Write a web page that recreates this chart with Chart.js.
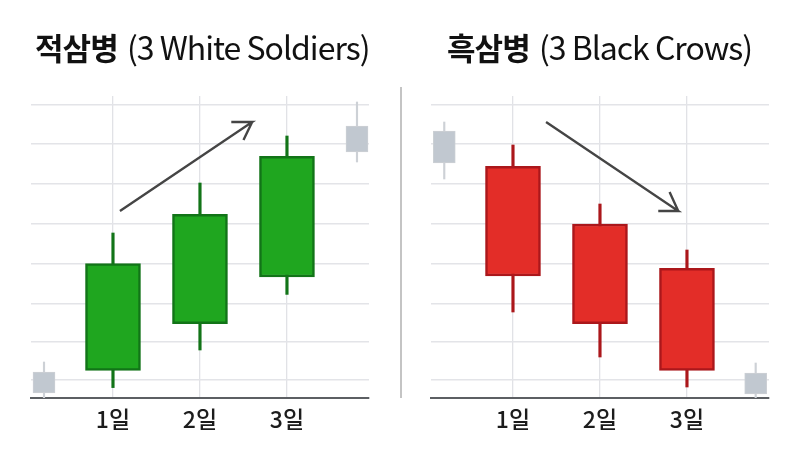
<!DOCTYPE html>
<html><head><meta charset="utf-8">
<script src="https://cdn.jsdelivr.net/npm/chart.js@4"></script>
<style>
html,body{margin:0;padding:0;background:#fff;width:800px;height:450px;overflow:hidden}
canvas{position:absolute;top:0}
#c1{left:0}#c2{left:400px}
.t{position:absolute;top:23px;white-space:nowrap;font-family:"Noto Sans CJK KR";color:#111;font-size:31px;line-height:46px;letter-spacing:-0.9px}
.t b{font-weight:700}
.t span{font-weight:400;font-size:32px;letter-spacing:-1.0px;margin-left:3px}
#t1{left:35px}#t2{left:447px}
#div{position:absolute;left:400px;top:87px;width:1.5px;height:311px;background:#c4c4c4}
</style></head><body>
<canvas id="c1" width="400" height="450" style="width:400px;height:450px"></canvas>
<canvas id="c2" width="400" height="450" style="width:400px;height:450px"></canvas>
<div id="div"></div>
<div class="t" id="t1"><b>적삼병</b> <span>(3 White Soldiers)</span></div>
<div class="t" id="t2"><b>흑삼병</b> <span>(3 Black Crows)</span></div>
<script>
const dayTicks=[1,2,3];
const gridValues=[4.5,14,23.5,33.5,43.5,53.5,63.5,73.25];
const xMin=0.0575,xMax=3.943,yMin=0,yMax=75.5;

const upDays=[1,2,3];
const upBodies=[[6.9,33.6],[18.6,45.9],[30.25,60.4]];
const upWicks=[[2.6,41.25],[12,53.75],[25.9,65.5]];
const upGrayX=[0.207,3.805];
const upGrayBodies=[[1.25,6.5],[61.5,68]];
const upGrayWicks=[[0,9],[59,74]];
const upArrow=[[1.08,46.75],[2.6,69],[2.36,69],[2.6,69],[2.5,64.5]];

const downDays=[1,2,3];
const downBodies=[[30.5,57.9],[18.6,43.5],[6.9,32.4]];
const downWicks=[[21.5,63.25],[10.25,48.5],[2.75,37]];
const downGrayX=[0.21,3.79];
const downGrayBodies=[[58.75,66.75],[1,6.25]];
const downGrayWicks=[[54.75,69],[0,8.75]];
const downArrow=[[1.38,69],[2.9,46.75],[2.67,46.75],[2.9,46.75],[2.8,51.5]];

const suffix='일';
const GREEN={fill:'#1fa61f',edge:'#127418'};
const RED={fill:'#e32d28',edge:'#ab171b'};

function pts(xs,ys){return xs.map((x,i)=>({x:x,y:ys[i]}));}
function make(id,days,bodies,wicks,grayX,grayBodies,grayWicks,arrow,col){
 return new Chart(document.getElementById(id),{
  data:{datasets:[
   {type:'bar',grouped:false,data:pts(grayX,grayWicks),backgroundColor:'#cdd1d6',barThickness:1.5,borderWidth:0,order:5},
   {type:'bar',grouped:false,data:pts(grayX,grayBodies),backgroundColor:'#c1c8d0',borderColor:'#ccd0d5',borderWidth:1,borderSkipped:false,barThickness:22,order:4},
   {type:'bar',grouped:false,data:pts(days,wicks),backgroundColor:col.edge,barThickness:2.5,borderWidth:0,order:3},
   {type:'bar',grouped:false,data:pts(days,bodies),backgroundColor:col.fill,borderColor:col.edge,borderWidth:2.5,borderSkipped:false,barThickness:55,order:2},
   {type:'scatter',showLine:true,data:arrow.map(p=>({x:p[0],y:p[1]})),borderColor:'#454545',borderWidth:2.4,pointRadius:0,borderJoinStyle:'miter',borderCapStyle:'butt',tension:0,order:1}
  ]},
  options:{
   responsive:false,animation:false,devicePixelRatio:1,
   layout:{padding:{left:31,right:31,top:96,bottom:0}},
   plugins:{legend:{display:false},title:{display:false},tooltip:{enabled:false}},
   scales:{
    x:{type:'linear',offset:false,min:xMin,max:xMax,
     afterBuildTicks(s){s.ticks=dayTicks.map(v=>({value:v}));},
     afterFit(s){s.height=52;},
     grid:{offset:false,color:'#e1e2e6',lineWidth:1.3,drawTicks:false},
     border:{color:'#5c5f63',width:2},
     ticks:{autoSkip:false,maxRotation:0,padding:7,color:'#1c1c1c',font:{family:'"Noto Sans CJK KR"',size:23,weight:500},callback:v=>v+suffix}},
    y:{type:'linear',min:yMin,max:yMax,
     afterBuildTicks(s){s.ticks=gridValues.map(v=>({value:v}));},
     afterFit(s){s.width=0;},
     grid:{color:'#e3e4e8',lineWidth:1.5,drawTicks:false},
     border:{display:false},
     ticks:{display:false}}
   }
  }
 });
}
make('c1',upDays,upBodies,upWicks,upGrayX,upGrayBodies,upGrayWicks,upArrow,GREEN);
make('c2',downDays,downBodies,downWicks,downGrayX,downGrayBodies,downGrayWicks,downArrow,RED);
</script>
</body></html>
